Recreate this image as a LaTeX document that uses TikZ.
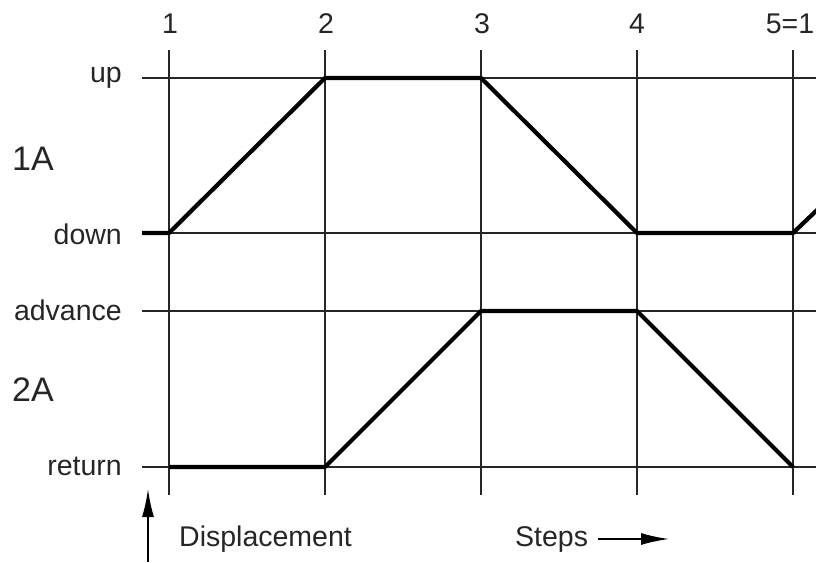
\documentclass[tikz,border=0pt]{standalone}
\usepackage{fontspec}
\setmainfont{Liberation Sans}
\usetikzlibrary{arrows.meta}
\begin{document}
\begin{tikzpicture}[x=1pt,y=-1pt,
  grid/.style={line width=1.6pt, draw=black!85},
  motion/.style={line width=4.2pt, black, line join=miter},
  lbl/.style={font=\fontsize{28.5}{28.5}\selectfont, inner sep=0pt, text=black!85},
  big/.style={font=\fontsize{34}{34}\selectfont, inner sep=0pt, text=black!85},
  tip/.style={-{Latex[length=28pt,width=12pt]}, line width=1.8pt, black}]
\useasboundingbox (0,0) rectangle (816,562);
\begin{scope}
\clip (0,0) rectangle (816,562);
% step positions
\foreach \i/\x in {1/169,2/325,3/481,4/637,5/793}{
  \coordinate (t\i) at (\x,50);
  \coordinate (b\i) at (\x,495);
  \draw[grid] (t\i) -- (b\i);
}
% level lines
\foreach \n/\y in {up/78,down/233,adv/311,ret/467}{
  \coordinate (\n L) at (142,\y);
  \coordinate (\n R) at (816,\y);
  \draw[grid] (\n L) -- (\n R);
}
% grid points
\foreach \i/\x in {1/169,2/325,3/481,4/637,5/793}{
  \coordinate (u\i) at (\x,78);
  \coordinate (d\i) at (\x,233);
  \coordinate (a\i) at (\x,311);
  \coordinate (r\i) at (\x,467);
}
\coordinate (dStart) at (142,233);
\coordinate (uEnd) at (840,188);
% 1A motion
\draw[motion] (dStart) -- (d1) -- (u2) -- (u3) -- (d4) -- (d5) -- (uEnd);
% 2A motion
\draw[motion] (r1) -- (r2) -- (a3) -- (a4) -- (r5);
\end{scope}
% step labels
\node[lbl] (n1) at (170,24) {1};
\node[lbl] (n2) at (326,24) {2};
\node[lbl] (n3) at (482,24) {3};
\node[lbl] (n4) at (637,24) {4};
\node[lbl] (n5) at (790,24) {5=1};
% level labels
\node[lbl, anchor=east] (lup) at (122,78) {up};
\node[lbl, anchor=east] (ldown) at (122,234) {down};
\node[lbl, anchor=east] (ladv) at (122,310) {advance};
\node[lbl, anchor=east] (lret) at (122,466) {return};
\node[big, anchor=west] (l1A) at (12,159) {1A};
\node[big, anchor=west] (l2A) at (12,390) {2A};
% bottom
\coordinate (dispA) at (148,562);
\coordinate (dispB) at (148,489);
\draw[tip] (dispA) -- (dispB);
\node[lbl, anchor=west] (disp) at (179,539) {Displacement};
\node[lbl, anchor=west] (steps) at (515,539) {Steps};
\coordinate (stA) at (598,539);
\coordinate (stB) at (669,539);
\draw[tip] (stA) -- (stB);
\end{tikzpicture}
\end{document}
